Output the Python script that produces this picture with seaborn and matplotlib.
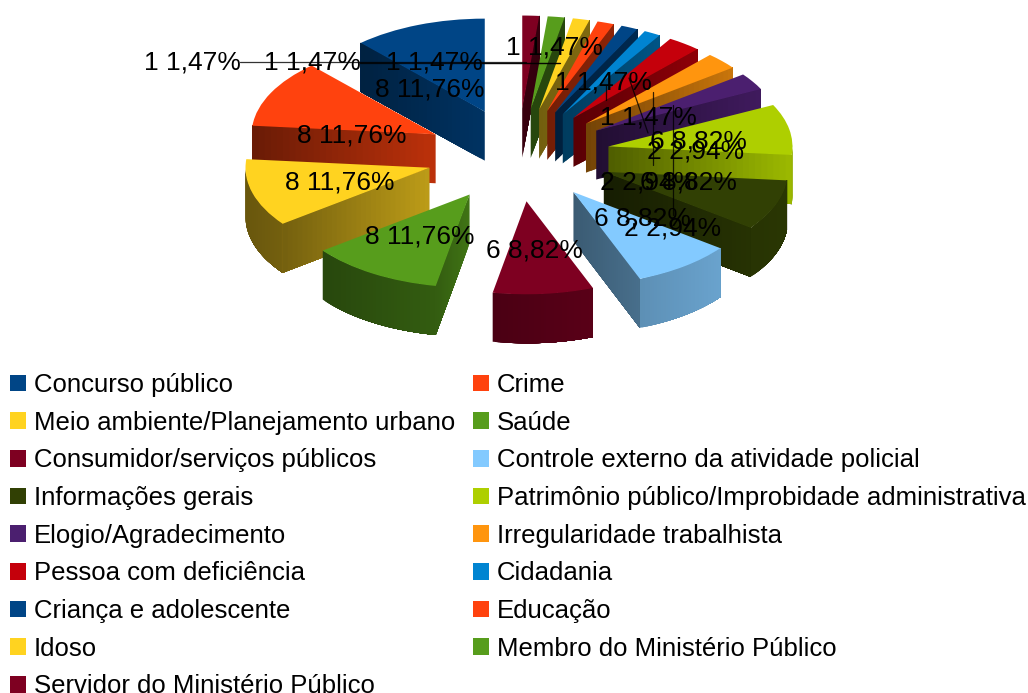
import numpy as np
import matplotlib
matplotlib.use("Agg")
import matplotlib.pyplot as plt
from matplotlib.colors import to_rgb
from matplotlib.patches import Polygon
import seaborn as sns

categories = ["Concurso público", "Crime", "Meio ambiente/Planejamento urbano", "Saúde",
              "Consumidor/serviços públicos", "Controle externo da atividade policial",
              "Informações gerais", "Patrimônio público/Improbidade administrativa",
              "Elogio/Agradecimento", "Irregularidade trabalhista", "Pessoa com deficiência",
              "Cidadania", "Criança e adolescente", "Educação", "Idoso",
              "Membro do Ministério Público", "Servidor do Ministério Público"]
values = [8, 8, 8, 8, 6, 6, 6, 6, 2, 2, 2, 1, 1, 1, 1, 1, 1]
colors = ["#004586", "#ff420e", "#ffd320", "#579d1c", "#7e0021", "#83caff",
          "#314004", "#aecf00", "#4b1f6f", "#ff950e", "#c5000b", "#0084d1"]

# label centres in pixels, same order as categories
label_pos = [(430, 89), (352, 135), (340, 182), (420, 236), (534, 250), (642, 218),
             (688, 182), (698, 141), (696, 151), (649, 182), (673, 228),
             (648, 117), (603, 82), (554, 47), (434, 62), (312, 62), (192, 62)]
leaders = [((240, 61.5), (526, 61.5)), ((360, 62.5), (560, 62.5)), ((482, 63), (560, 63)),
           ((606, 85), (606, 100)), ((629, 78), (648, 133)), ((653, 92), (653, 165)),
           ((673, 105), (673, 215))]

W, H = 1028, 693
CX, CY = 518, 155
RX, RY = 184, 93
DEPTH = 49 / RY
FONT = 18.5
LABEL_FONT = 19

sns.set_theme(style="white")
plt.rcParams["font.family"] = ["Liberation Sans", "DejaVu Sans"]


def to_data(x, y):
    return (x - CX) / RX, (CY - y) / RY


def rim_shade(x):
    return 0.63 + 0.22 * x


def add_quad(ax, pts, color, b, z):
    c = tuple(v * b for v in to_rgb(color))
    ax.add_patch(Polygon(pts, closed=True, facecolor=c, edgecolor="none", linewidth=0, zorder=z))


fig = plt.figure(figsize=(W / 100, H / 100), dpi=100)
ax = fig.add_axes([0, 0, 1, 1])
palette = sns.color_palette(colors, n_colors=len(values))
wedges, _ = ax.pie(values, explode=[0.5] * len(values), startangle=90, colors=palette,
                   counterclock=True, wedgeprops={"linewidth": 0})
ax.set_aspect("auto")
ax.set_xlim(-CX / RX, (W - CX) / RX)
ax.set_ylim((CY - H) / RY, CY / RY)
ax.axis("off")

# back wedges first so the front ones cover them
order = sorted(range(len(wedges)), key=lambda i: -wedges[i].center[1])
for rank, i in enumerate(order):
    w = wedges[i]
    col = palette[i]
    z = rank * 2 + 2
    w.set_zorder(z + 1)
    cx, cy = w.center

    # outer rim, front half only. each strip runs to the end of the rim and the
    # next one paints over it, that way no seams show
    ts = np.radians(np.linspace(w.theta1, w.theta2, 41))
    ts = ts[np.sin(ts) <= 0.02]
    for k in range(len(ts) - 1):
        arc = ts[k:]
        top = [(cx + np.cos(t), cy + np.sin(t)) for t in arc]
        low = [(x, y - DEPTH) for x, y in top[::-1]]
        add_quad(ax, top + low, col, rim_shade(np.cos((ts[k] + ts[k + 1]) / 2)), z)

    # the two flat cut faces, only the one turned to the viewer
    for ang, sign in ((w.theta1, 1), (w.theta2, -1)):
        t = np.radians(ang)
        if sign * np.cos(t) <= 0:
            continue
        if np.cos(t) < 0:
            b_apex = 0.74
            b_outer = rim_shade(np.cos(t))
        else:
            b_apex = 0.45
            b_outer = 0.35 + 0.55 * np.cos(t)
        steps = np.linspace(0, 1, 31)
        end = (cx + np.cos(t), cy + np.sin(t))
        for s0, s1 in zip(steps[:-1], steps[1:]):
            p0 = (cx + s0 * np.cos(t), cy + s0 * np.sin(t))
            add_quad(ax, [p0, end, (end[0], end[1] - DEPTH), (p0[0], p0[1] - DEPTH)],
                     col, b_apex + (b_outer - b_apex) * (s0 + s1) / 2, z)

total = sum(values)
for v, (x, y) in zip(values, label_pos):
    txt = f"{v} {v / total * 100:.2f}%".replace(".", ",")
    dx, dy = to_data(x, y)
    ax.text(dx, dy, txt, fontsize=LABEL_FONT, color="black", ha="center", va="center", zorder=100)

for a, b in leaders:
    ax0, ay0 = to_data(*a)
    ax1, ay1 = to_data(*b)
    ax.plot([ax0, ax1], [ay0, ay1], color="black", lw=0.9, alpha=0.8, zorder=99)

# legend is filled by column, the picture reads by row
leg_order = list(range(0, len(values), 2)) + list(range(1, len(values), 2))
px = FONT * 100 / 72
fig.legend([wedges[i] for i in leg_order], [categories[i] for i in leg_order],
           ncol=2, frameon=False, loc="upper left", bbox_to_anchor=(10 / W, 1 - 373 / H),
           fontsize=FONT, labelcolor="black", borderaxespad=0, borderpad=0,
           handlelength=16 / px, handleheight=16 / px, handletextpad=8 / px,
           labelspacing=(39.35 - px) / px, columnspacing=18 / px)

fig.savefig("out.png", dpi=100)
